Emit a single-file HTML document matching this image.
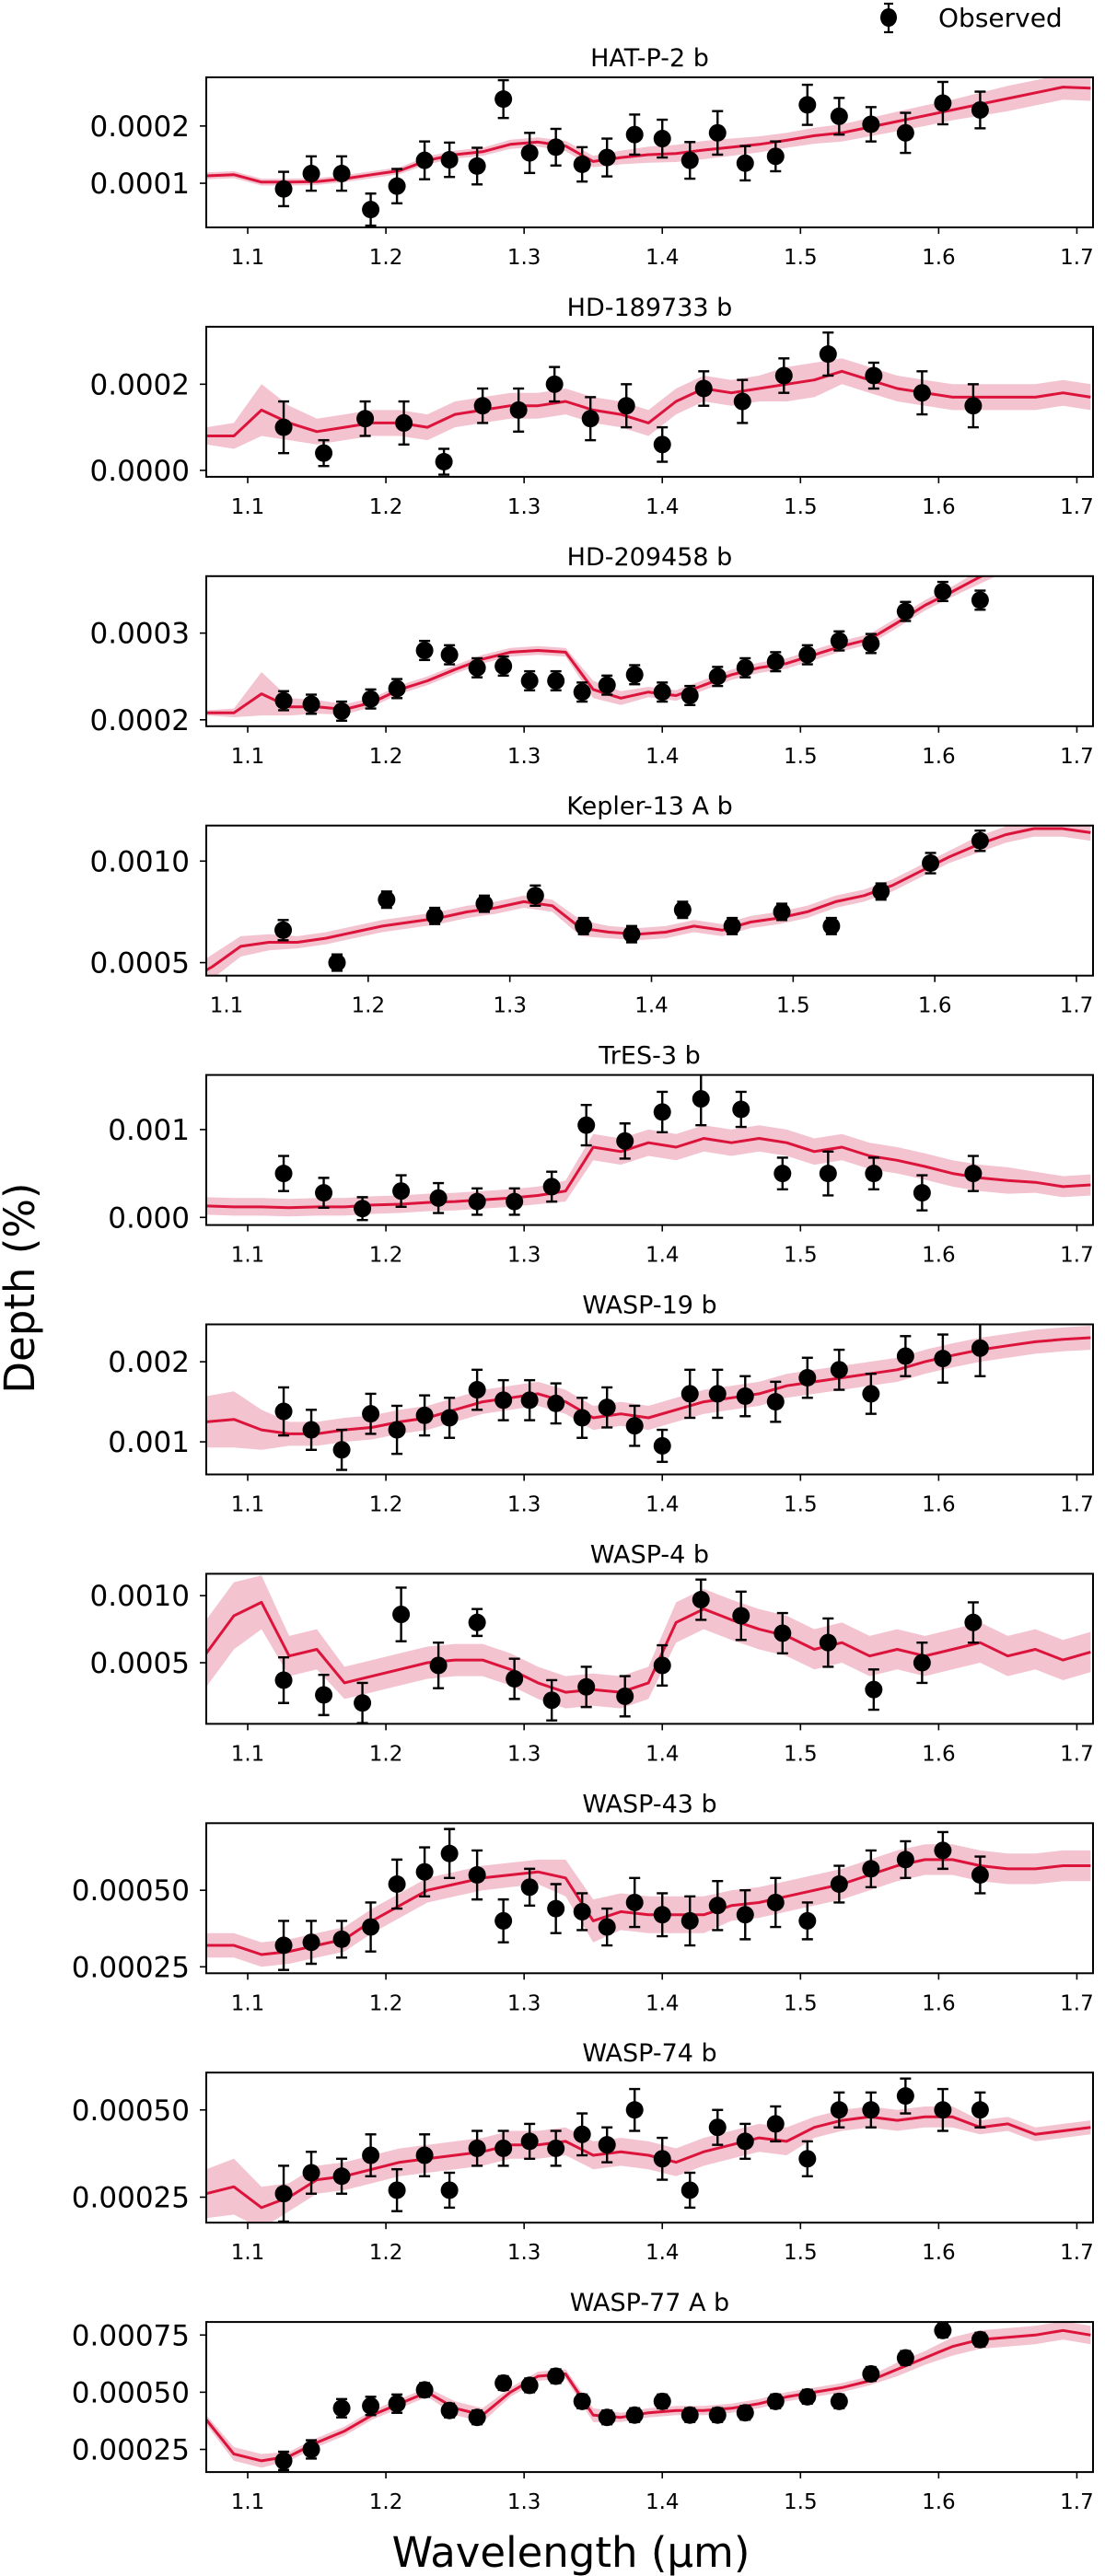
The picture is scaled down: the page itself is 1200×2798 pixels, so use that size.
<!DOCTYPE html>
<html><head><meta charset="utf-8"><title>Transmission spectra</title>
<style>
html,body{margin:0;padding:0;background:#fff;}
svg{display:block;font-family:"DejaVu Sans","Liberation Sans",sans-serif;}
</style></head>
<body>
<svg id="fig" width="1200" height="2798" viewBox="0 0 1200 2798" xmlns="http://www.w3.org/2000/svg">
  <g>
    <line x1="965" y1="4" x2="965" y2="35" stroke="#000" stroke-width="2.2"/>
    <line x1="960" y1="4" x2="970" y2="4" stroke="#000" stroke-width="2.2"/>
    <line x1="960" y1="35" x2="970" y2="35" stroke="#000" stroke-width="2.2"/>
    <ellipse cx="965" cy="19" rx="9" ry="10" fill="#000"/>
    <text x="1019" y="29" font-size="28">Observed</text>
  </g>
  <text x="0" y="0" font-size="45" text-anchor="middle" transform="translate(37,1399) rotate(-90)">Depth (%)</text>
  <text x="620" y="2788" font-size="45" text-anchor="middle">Wavelength (µm)</text>
  <g id="panels"></g>
</svg>
<script>
const modelWl = [1.07,1.09,1.11,1.13,1.15,1.17,1.19,1.21,1.23,1.25,1.27,1.29,1.31,1.33,1.35,1.37,1.39,1.41,1.43,1.45,1.47,1.49,1.51,1.53,1.55,1.57,1.59,1.61,1.63,1.65,1.67,1.69,1.71];
const obsWl25 = [1.126,1.146,1.168,1.189,1.208,1.228,1.246,1.266,1.285,1.304,1.323,1.342,1.360,1.380,1.400,1.420,1.440,1.460,1.482,1.505,1.528,1.551,1.576,1.603,1.630];
const obsWl18 = [1.126,1.155,1.183,1.211,1.238,1.266,1.293,1.320,1.345,1.373,1.400,1.428,1.457,1.487,1.520,1.553,1.588,1.625];
const obsWlHD189 = [1.126,1.155,1.185,1.213,1.242,1.270,1.296,1.322,1.348,1.374,1.400,1.430,1.458,1.488,1.520,1.553,1.588,1.625];
const obsWlKepler = [1.140,1.178,1.213,1.247,1.282,1.318,1.352,1.386,1.422,1.457,1.492,1.527,1.562,1.597,1.632];

const planetNames = ["HAT-P-2 b","HD-189733 b","HD-209458 b","Kepler-13 A b","TrES-3 b","WASP-19 b","WASP-4 b","WASP-43 b","WASP-74 b","WASP-77 A b"];
const valueUnits = [1e-5,1e-5,1e-5,1e-4,1e-4,1e-4,1e-4,1e-4,1e-4,1e-4];
const yLimits = [[2.29e-5,2.85e-4],[-1.5e-5,3.335e-4],[1.926e-4,3.657e-4],[4.36e-4,1.175e-3],[-8.7e-5,1.622e-3],[5.93e-4,2.467e-3],[4.46e-5,1.163e-3],[2.29e-4,7.19e-4],[1.77e-4,6.07e-4],[1.51e-4,8.07e-4]];
const xLimits = [[1.07,1.7117],[1.07,1.7117],[1.07,1.7117],[1.0857,1.7117],[1.07,1.7117],[1.07,1.7117],[1.07,1.7117],[1.07,1.7117],[1.07,1.7117],[1.07,1.7117]];
const yTickValues = [[1e-4,2e-4],[0,2e-4],[2e-4,3e-4],[5e-4,1e-3],[0,1e-3],[1e-3,2e-3],[5e-4,1e-3],[2.5e-4,5e-4],[2.5e-4,5e-4],[2.5e-4,5e-4,7.5e-4]];
const yTickLabels = [["0.0001","0.0002"],["0.0000","0.0002"],["0.0002","0.0003"],["0.0005","0.0010"],["0.000","0.001"],["0.001","0.002"],["0.0005","0.0010"],["0.00025","0.00050"],["0.00025","0.00050"],["0.00025","0.00050","0.00075"]];
const xTickValues = [1.1,1.2,1.3,1.4,1.5,1.6,1.7];
const xTickLabels = ["1.1","1.2","1.3","1.4","1.5","1.6","1.7"];

// HAT-P-2 b
const obsVal1 = [9.0,11.7,11.7,5.4,9.5,14.0,14.1,13.0,24.7,15.3,16.3,13.3,14.5,18.5,17.8,14.0,18.8,13.5,14.7,23.7,21.7,20.3,18.8,24.0,22.8];
const obsErr1 = [3,3,3,2.8,3,3.3,3,3.2,3.3,3.5,3.2,3,3.3,3.5,3.3,3.2,3.8,3,2.6,3.5,3.2,3,3.5,3.7,3.2];
const model1 = [11.3,11.5,10.2,10.2,10.3,10.8,11.5,12.2,14.0,15.0,15.5,16.8,17.2,16.5,13.8,14.5,15.0,15.2,15.8,16.3,16.8,17.5,18.3,18.8,19.8,20.8,21.8,22.8,23.8,24.8,25.8,26.8,26.6];
const band1 = [0.6,0.6,0.6,0.6,0.6,0.6,0.6,0.6,0.7,0.7,0.7,0.8,0.8,0.9,1.0,1.2,1.4,1.5,1.6,1.5,1.4,1.3,1.4,1.5,1.6,1.7,1.8,1.8,2.0,2.2,2.2,2.2,2.2];
// HD-189733 b
const obsVal2 = [10,4,12,11,2,15,14,20,12,15,6,19,16,22,27,22,18,15];
const obsErr2 = [6,3,4,5,3,4,5,4,5,5,4,4,5,4,5,3,5,5];
const model2 = [8,8,14,11,9,10,11,11,10,13,14,15,15,16,14,13,11,16,19,18,19,20,21,23,21,19,18,17,17,17,17,18,17];
const band2 = [2,3,6,4,3,3,3,3,3,3,3,3,3,3,3,3,3,3,3,3,3,4,4,3,3,3,3,3,3,3,3,3,3];
// HD-209458 b
const obsVal3 = [22.2,21.8,21.0,22.4,23.6,28.0,27.5,26.0,26.2,24.5,24.5,23.2,24.0,25.2,23.2,22.8,25.0,26.0,26.7,27.5,29.1,28.8,32.5,34.8,33.8];
const obsErr3 = [1.1,1.1,1.1,1.1,1.1,1.1,1.1,1.1,1.1,1.1,1.1,1.1,1.1,1.1,1.1,1.1,1.1,1.1,1.1,1.1,1.1,1.1,1.1,1.1,1.1];
const model3 = [20.8,20.8,23.0,21.5,21.5,21.2,22.0,23.5,24.5,25.8,27.0,27.8,28.0,27.8,23.5,22.5,23.2,22.8,24.0,25.2,26.0,26.5,27.5,28.5,29.3,31.2,33.2,34.8,36.5,38.0,39.5,40.5,41.5];
const band3 = [0.3,0.5,2.5,1,0.8,0.6,0.5,0.5,0.5,0.5,0.5,0.5,0.5,0.5,1.0,0.8,0.6,0.6,0.6,0.6,0.6,0.6,0.6,0.6,0.6,0.6,0.6,0.6,0.8,0.8,0.8,0.8,0.8];
// Kepler-13 A b
const obsVal4 = [6.6,5.0,8.1,7.3,7.9,8.3,6.8,6.4,7.6,6.8,7.5,6.8,8.5,9.9,11.0];
const obsErr4 = [0.5,0.4,0.4,0.4,0.4,0.5,0.4,0.4,0.4,0.4,0.4,0.4,0.4,0.5,0.5];
const model4 = [4.0,4.8,5.8,6.0,6.0,6.2,6.5,6.8,7.0,7.2,7.5,7.7,8.0,7.8,6.7,6.5,6.4,6.5,6.8,6.6,7.0,7.2,7.5,8.0,8.3,8.8,9.5,10.2,10.8,11.3,11.6,11.6,11.4];
const band4 = [0.5,0.6,0.5,0.4,0.3,0.3,0.3,0.3,0.3,0.3,0.3,0.3,0.3,0.3,0.4,0.3,0.3,0.3,0.3,0.3,0.3,0.3,0.3,0.3,0.3,0.3,0.3,0.3,0.4,0.4,0.4,0.4,0.4];
// TrES-3 b
const obsVal5 = [5.0,2.8,1.0,3.0,2.2,1.8,1.8,3.5,10.5,8.7,12.0,13.5,12.3,5.0,5.0,5.0,2.8,5.0];
const obsErr5 = [2.0,1.7,1.3,1.8,1.7,1.5,1.5,1.7,2.3,2.0,2.3,3.0,2.0,1.8,2.5,1.8,2.0,2.0];
const model5 = [1.3,1.2,1.2,1.1,1.2,1.2,1.4,1.5,1.7,1.8,2.0,2.2,2.5,3.0,8.0,7.5,8.5,8.0,9.0,8.5,9.0,8.5,7.5,8.0,7.0,6.5,5.8,5.0,4.5,4.2,4.0,3.5,3.7];
const band5 = [1.0,1.0,1.0,1.0,1.0,1.0,1.0,1.0,1.0,1.0,1.0,1.0,1.0,1.2,1.5,1.5,1.5,1.5,1.5,1.5,1.5,1.5,1.5,1.5,1.5,1.5,1.5,1.5,1.5,1.5,1.2,1.2,1.2];
// WASP-19 b
const obsVal6 = [13.8,11.5,9.0,13.5,11.5,13.3,13.0,16.5,15.2,15.2,14.8,13.0,14.3,12.0,9.5,16.0,16.0,15.7,15.0,18.0,19.0,16.0,20.7,20.4,21.7];
const obsErr6 = [3,2.5,2.5,2.5,3,2.5,2.5,2.5,2.5,2.5,2.5,2.5,2.5,2.5,2.0,3,3,2.5,2.5,2.5,2.5,2.5,2.5,3,3.5];
const model6 = [12.5,12.8,11.5,11.0,11.0,11.5,11.8,12.5,13.0,14.0,15.0,15.5,16.0,15.0,13.0,13.5,13.0,14.0,15.0,15.5,16.0,17.0,17.5,18.0,18.5,19.0,20.0,20.8,21.5,22.0,22.5,22.8,23.0];
const band6 = [3.2,3.5,2.5,1.5,1.5,1.5,1.5,1.5,1.5,1.5,1.5,1.5,1.5,1.5,1.5,1.5,1.5,1.5,1.5,1.5,1.5,1.5,1.5,1.5,1.5,1.5,1.5,1.5,1.5,1.5,1.5,1.5,1.5];
// WASP-4 b
const obsVal7 = [3.7,2.6,2.0,8.6,4.8,8.0,3.8,2.2,3.2,2.5,4.8,9.7,8.5,7.2,6.5,3.0,5.0,8.0];
const obsErr7 = [1.7,1.5,1.5,2.0,1.7,1.0,1.5,1.5,1.5,1.5,1.5,1.5,1.8,1.5,1.8,1.5,1.5,1.5];
const model7 = [5.7,8.5,9.5,5.5,6.0,3.5,4.0,4.5,5.0,5.2,5.2,4.5,3.5,2.8,3.0,2.8,3.5,8.0,9.0,8.2,7.5,7.0,6.0,6.5,5.5,6.0,5.5,6.0,6.5,5.5,6.0,5.2,5.8];
const band7 = [2.5,2.5,2.0,1.5,1.5,1.2,1.2,1.2,1.2,1.2,1.2,1.2,1.2,1.2,1.2,1.2,1.2,1.5,1.5,1.5,1.5,1.5,1.5,1.5,1.5,1.5,1.5,1.5,1.5,1.5,1.5,1.5,1.5];
// WASP-43 b
const obsVal8 = [3.2,3.3,3.4,3.8,5.2,5.6,6.2,5.5,4.0,5.1,4.4,4.3,3.8,4.6,4.2,4.0,4.5,4.2,4.6,4.0,5.2,5.7,6.0,6.3,5.5];
const obsErr8 = [0.8,0.7,0.6,0.8,0.8,0.8,0.8,0.8,0.7,0.6,0.8,0.6,0.6,0.8,0.7,0.8,0.8,0.8,0.8,0.6,0.6,0.6,0.6,0.6,0.6];
const model8 = [3.2,3.2,2.9,3.0,3.2,3.4,4.0,4.5,5.0,5.2,5.4,5.5,5.6,5.4,4.0,4.3,4.2,4.2,4.2,4.5,4.6,4.8,5.0,5.2,5.5,5.8,6.0,6.0,5.8,5.7,5.7,5.8,5.8];
const band8 = [0.4,0.4,0.4,0.4,0.4,0.4,0.4,0.4,0.4,0.4,0.4,0.4,0.4,0.6,0.7,0.6,0.6,0.6,0.6,0.5,0.5,0.5,0.5,0.5,0.5,0.5,0.5,0.5,0.5,0.5,0.5,0.5,0.5];
// WASP-74 b
const obsVal9 = [2.6,3.2,3.1,3.7,2.7,3.7,2.7,3.9,3.9,4.1,3.9,4.3,4.0,5.0,3.6,2.7,4.5,4.1,4.6,3.6,5.0,5.0,5.4,5.0,5.0];
const obsErr9 = [0.8,0.6,0.5,0.6,0.6,0.6,0.5,0.5,0.5,0.5,0.5,0.6,0.5,0.6,0.6,0.5,0.5,0.5,0.5,0.5,0.5,0.5,0.5,0.6,0.5];
const model9 = [2.6,2.8,2.2,2.5,3.0,3.1,3.3,3.5,3.6,3.7,3.8,4.0,4.0,4.1,3.7,3.8,3.7,3.5,3.8,4.0,4.2,4.1,4.5,4.7,4.8,4.7,4.8,4.8,4.5,4.6,4.3,4.4,4.5];
const band9 = [0.7,0.8,0.6,0.4,0.4,0.4,0.4,0.4,0.4,0.4,0.4,0.4,0.4,0.4,0.4,0.4,0.4,0.4,0.4,0.4,0.4,0.4,0.3,0.3,0.3,0.3,0.3,0.3,0.2,0.2,0.2,0.2,0.2];
// WASP-77 A b
const obsVal10 = [2.0,2.5,4.3,4.4,4.5,5.1,4.2,3.9,5.4,5.3,5.7,4.6,3.9,4.0,4.6,4.0,4.0,4.1,4.6,4.8,4.6,5.8,6.5,7.7,7.3];
const obsErr10 = [0.4,0.4,0.4,0.4,0.4,0.3,0.3,0.3,0.3,0.3,0.3,0.3,0.3,0.3,0.3,0.3,0.3,0.3,0.3,0.3,0.3,0.3,0.3,0.3,0.3];
const model10 = [3.8,2.3,2.0,2.2,2.8,3.3,4.0,4.5,5.0,4.3,4.0,5.0,5.7,5.8,4.0,3.9,4.1,4.2,4.2,4.3,4.5,4.8,5.0,5.2,5.5,6.0,6.5,7.0,7.3,7.4,7.5,7.7,7.5];
const band10 = [0.2,0.3,0.3,0.2,0.2,0.2,0.2,0.2,0.2,0.3,0.3,0.2,0.2,0.2,0.3,0.2,0.2,0.2,0.2,0.2,0.2,0.2,0.2,0.2,0.2,0.3,0.3,0.4,0.4,0.4,0.4,0.4,0.4];

const obsWls = [obsWl25,obsWlHD189,obsWl25,obsWlKepler,obsWl18,obsWl25,obsWl18,obsWl25,obsWl25,obsWl25];
const obsVals = [obsVal1,obsVal2,obsVal3,obsVal4,obsVal5,obsVal6,obsVal7,obsVal8,obsVal9,obsVal10];
const obsErrs = [obsErr1,obsErr2,obsErr3,obsErr4,obsErr5,obsErr6,obsErr7,obsErr8,obsErr9,obsErr10];
const models = [model1,model2,model3,model4,model5,model6,model7,model8,model9,model10];
const bands = [band1,band2,band3,band4,band5,band6,band7,band8,band9,band10];

const NS = "http://www.w3.org/2000/svg";
const AX_LEFT = 224, AX_RIGHT = 1187, AX_H = 163, FIRST_TOP = 84, PITCH = 270.9;
const panelsRoot = document.getElementById("panels");
function mk(tag, attrs, parent) {
  const e = document.createElementNS(NS, tag);
  for (const k in attrs) e.setAttribute(k, attrs[k]);
  parent.appendChild(e);
  return e;
}
const slug = s => s.toLowerCase().replace(/[^a-z0-9]+/g, "-").replace(/-$/, "");

planetNames.forEach((name, p) => {
  const top = FIRST_TOP + PITCH * p, bottom = top + AX_H;
  const [x0, x1] = xLimits[p], [y0, y1] = yLimits[p], u = valueUnits[p];
  const xs = w => AX_LEFT + (w - x0) / (x1 - x0) * (AX_RIGHT - AX_LEFT);
  const ys = v => bottom - (v - y0) / (y1 - y0) * AX_H;
  const id = slug(name);

  const g = mk("g", {}, panelsRoot);
  
  

  const cp = mk("clipPath", {id: "clip" + p}, g);
  mk("rect", {x: AX_LEFT, y: top, width: AX_RIGHT - AX_LEFT, height: AX_H}, cp);

  const title = mk("text", {x: (AX_LEFT + AX_RIGHT) / 2, y: top - 12, "font-size": 27, "text-anchor": "middle"}, g);
  title.textContent = name;
  
  

  const plot = mk("g", {"clip-path": "url(#clip" + p + ")"}, g);
  
  

  const m = models[p], b = bands[p];
  let up = "", dn = "";
  modelWl.forEach((w, i) => { up += (i ? "L" : "M") + xs(w).toFixed(1) + "," + ys((m[i] + b[i]) * u).toFixed(1); });
  for (let i = modelWl.length - 1; i >= 0; i--) dn += "L" + xs(modelWl[i]).toFixed(1) + "," + ys((m[i] - b[i]) * u).toFixed(1);
  const band = mk("path", {d: up + dn + "Z", fill: "#f3c3cf", stroke: "none"}, plot);
  
  

  let ld = "";
  modelWl.forEach((w, i) => { ld += (i ? "L" : "M") + xs(w).toFixed(1) + "," + ys(m[i] * u).toFixed(1); });
  const line = mk("path", {d: ld, fill: "none", stroke: "#dc143c", "stroke-width": 3, "stroke-linejoin": "round"}, plot);
  
  

  const wls = obsWls[p], vals = obsVals[p], errs = obsErrs[p];
  wls.forEach((w, i) => {
    const cx = xs(w), cy = ys(vals[i] * u), yt = ys((vals[i] + errs[i]) * u), yb = ys((vals[i] - errs[i]) * u);
    const pg = mk("g", {}, plot);
    
    
    mk("line", {x1: cx, y1: yt, x2: cx, y2: yb, stroke: "#000", "stroke-width": 2.4}, pg);
    mk("line", {x1: cx - 6, y1: yt, x2: cx + 6, y2: yt, stroke: "#000", "stroke-width": 2.4}, pg);
    mk("line", {x1: cx - 6, y1: yb, x2: cx + 6, y2: yb, stroke: "#000", "stroke-width": 2.4}, pg);
    mk("circle", {cx: cx, cy: cy, r: 9.5, fill: "#000"}, pg);
  });

  const frame = mk("rect", {x: AX_LEFT, y: top, width: AX_RIGHT - AX_LEFT, height: AX_H, fill: "none", stroke: "#000", "stroke-width": 2}, g);
  
  

  yTickValues[p].forEach((v, i) => {
    const y = ys(v);
    const t = mk("line", {x1: AX_LEFT - 7, y1: y, x2: AX_LEFT, y2: y, stroke: "#000", "stroke-width": 1.6}, g);
    
    
    const lbl = mk("text", {x: AX_LEFT - 18, y: y + 11, "font-size": 31, "text-anchor": "end"}, g);
    lbl.textContent = yTickLabels[p][i];
    
    
  });
  xTickValues.forEach((v, i) => {
    const x = xs(v);
    const t = mk("line", {x1: x, y1: bottom, x2: x, y2: bottom + 7, stroke: "#000", "stroke-width": 1.6}, g);
    
    
    const lbl = mk("text", {x: x, y: bottom + 40, "font-size": 23, "text-anchor": "middle"}, g);
    lbl.textContent = xTickLabels[i];
    
    
  });
});
</script>
</body></html>
